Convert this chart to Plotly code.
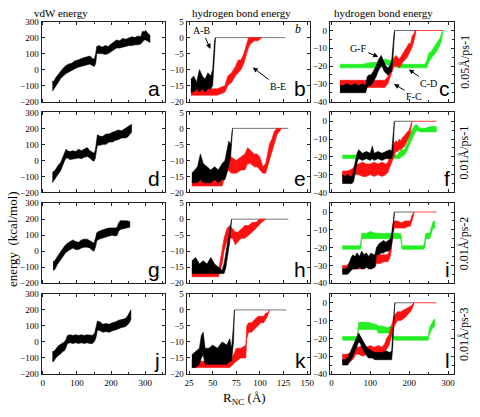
import plotly.graph_objects as go

# ======================= DATA =======================
# ---- column 1 : vdW energy, envelope of the noisy trace (lo / hi) ----
a_x  = [28, 32, 38, 45, 52, 60, 68, 76, 85, 94, 103, 112, 121, 130, 138, 145, 151, 155, 158, 165, 174, 183, 192, 200, 208, 216, 225, 234, 243, 252, 261, 270, 279, 287, 292, 297, 302, 308, 314]
a_hi = [-70, -75, -50, -30, -5, 10, 25, 35, 40, 55, 60, 70, 75, 80, 85, 70, 65, 100, 145, 150, 140, 150, 145, 160, 175, 185, 180, 195, 190, 200, 205, 200, 210, 205, 240, 235, 245, 225, 215]
a_lo = [-135, -120, -105, -80, -55, -40, -25, -15, -5, 5, 15, 20, 25, 30, 35, 25, 20, 40, 100, 100, 100, 95, 100, 110, 125, 135, 135, 140, 145, 150, 150, 155, 155, 160, 175, 185, 185, 180, 170]

d_x  = [28, 32, 38, 45, 52, 58, 63, 68, 72, 80, 88, 96, 105, 113, 121, 130, 138, 145, 150, 154, 157, 160, 168, 176, 185, 194, 204, 213, 222, 231, 241, 248, 255, 260]
d_hi = [-75, -70, -55, -30, -15, 15, 50, 70, 60, 55, 60, 55, 70, 60, 70, 80, 60, 50, 45, 65, 120, 160, 150, 150, 165, 165, 175, 185, 190, 185, 200, 210, 220, 225]
d_lo = [-140, -125, -105, -85, -65, -35, -5, 15, 15, 5, 10, 10, 15, 10, 20, 25, 15, 0, -5, 15, 60, 95, 95, 100, 100, 115, 115, 125, 130, 140, 140, 145, 160, 175]

g_x  = [30, 35, 42, 50, 58, 65, 72, 80, 88, 96, 105, 113, 121, 130, 138, 145, 150, 155, 158, 165, 176, 185, 194, 204, 213, 218, 222, 227, 235, 245, 255]
g_hi = [-65, -60, -35, -10, 15, 35, 50, 60, 70, 60, 55, 70, 75, 75, 65, 55, 50, 85, 115, 125, 135, 140, 145, 145, 145, 150, 175, 190, 190, 190, 185]
g_lo = [-120, -115, -85, -60, -35, -15, 0, 10, 20, 10, 10, 20, 25, 25, 20, 5, 0, 30, 65, 75, 85, 90, 95, 100, 95, 100, 125, 135, 140, 145, 150]

j_x  = [28, 32, 38, 45, 52, 58, 63, 68, 72, 80, 88, 96, 105, 113, 121, 130, 138, 145, 152, 156, 160, 168, 176, 185, 194, 204, 213, 222, 231, 241, 248, 255, 258]
j_hi = [-60, -60, -45, -25, -15, -5, 0, 15, 40, 45, 40, 45, 40, 45, 40, 45, 40, 40, 55, 90, 130, 125, 110, 115, 110, 120, 125, 135, 140, 145, 160, 185, 200]
j_lo = [-125, -120, -100, -85, -75, -60, -55, -35, -10, -5, -10, -5, -10, -5, -10, -5, -10, -10, 5, 30, 75, 70, 60, 65, 60, 70, 75, 80, 90, 95, 105, 125, 140]

# ---- column 2 : hydrogen bond energy, A-B (black) and B-E (red) ----
b_k_x  = [27, 30, 33, 36, 39, 42, 45, 48, 50, 51, 52, 53]
b_k_hi = [-13, -12, -14, -10, -12, -13, -11, -12, -10, -5, -1, 0]
b_k_lo = [-17, -17, -16, -17, -16, -17, -16, -16, -15, -10, -4, 0]
b_r_x  = [27, 35, 45, 55, 63, 66, 70, 74, 77, 80, 83, 85, 88, 90, 94, 98, 102]
b_r_hi = [-16, -16, -16, -16, -15, -12, -11, -9, -7, -7, -5, -3, 0, 0, 0, 0, 0]
b_r_lo = [-18, -18, -18, -18, -17, -15, -14, -12, -11, -10, -8, -6, -3, -2, -1, -1, 0]
b_zero_x = [53, 127]

e_k_x  = [28, 31, 34, 37, 40, 44, 48, 52, 56, 60, 63, 65, 67, 69, 71]
e_k_hi = [-14, -13, -12, -8, -11, -12, -13, -12, -13, -11, -10, -7, -4, -5, 0]
e_k_lo = [-17, -17, -17, -16, -17, -17, -17, -16, -17, -16, -16, -14, -12, -9, 0]
e_r_x  = [28, 40, 55, 60, 62, 66, 70, 75, 80, 84, 87, 90, 94, 97, 100, 103, 106, 108, 110, 113, 115, 118, 123]
e_r_hi = [-16, -16, -16, -15, -12, -9, -9, -10, -9, -8, -6, -7, -8, -8, -9, -12, -11, -8, -5, -3, -1, 0, 0]
e_r_lo = [-18, -18, -18, -18, -16, -13, -14, -14, -13, -13, -11, -11, -12, -12, -13, -14, -14, -12, -10, -7, -5, -2, 0]
e_zero_x = [71, 130]

h_k_x  = [28, 32, 36, 40, 44, 48, 52, 56, 60, 62, 64, 66, 68, 70]
h_k_hi = [-13, -12, -14, -13, -14, -12, -14, -15, -16, -14, -10, -7, -4, 0]
h_k_lo = [-17, -17, -17, -17, -17, -17, -17, -17, -17, -17, -15, -11, -7, 0]
h_r_x  = [28, 40, 50, 56, 58, 60, 62, 65, 68, 71, 74, 77, 80, 84, 88, 92, 96, 99, 102, 106]
h_r_hi = [-16, -16, -16, -16, -13, -9, -6, -3, -2, -3, -4, -4, -3, -2, -2, -1, -1, 0, 0, 0]
h_r_lo = [-18, -18, -18, -18, -16, -14, -10, -7, -6, -6, -8, -7, -6, -6, -5, -4, -3, -2, -1, 0]
h_zero_x = [70, 130]

k_k_x  = [28, 32, 36, 38, 40, 42, 46, 50, 55, 60, 65, 68, 70, 72, 73]
k_k_hi = [-14, -13, -12, -8, -7, -12, -12, -11, -12, -10, -11, -9, -12, -5, 0]
k_k_lo = [-18, -18, -17, -15, -14, -17, -17, -17, -17, -17, -17, -16, -16, -10, 0]
k_r_x  = [28, 45, 60, 68, 72, 75, 80, 85, 86, 88, 91, 95, 98, 101, 104, 106, 108, 110]
k_r_hi = [-16, -16, -16, -16, -14, -12, -12, -11, -5, -4, -4, -3, -2, -2, -2, -1, -1, 0]
k_r_lo = [-18, -18, -18, -18, -17, -16, -15, -15, -9, -7, -7, -6, -5, -4, -4, -3, -2, 0]
k_zero_x = [73, 128]

# ---- column 3 : hydrogen bond energy, G-F (black), F-C (red), C-D (green) ----
c_k_x  = [22, 30, 40, 50, 60, 70, 80, 88, 92, 96, 100, 105, 110, 115, 120, 125, 128, 132, 136, 140, 145, 150, 155, 158, 161, 163]
c_k_hi = [-31, -31, -30, -31, -30, -31, -30, -31, -26, -25, -25, -24, -22, -20, -17, -15, -14, -16, -18, -20, -21, -20, -17, -8, -2, 0]
c_k_lo = [-35, -35, -35, -35, -35, -35, -35, -35, -32, -31, -31, -30, -28, -26, -23, -21, -20, -21, -23, -24, -25, -24, -23, -16, -8, 0]
c_r_x  = [22, 40, 60, 80, 100, 120, 137, 145, 150, 155, 158, 162, 166, 170, 174, 178, 183, 188, 191, 195, 200, 203, 208, 212, 215, 218]
c_r_hi = [-28, -28, -28, -28, -28, -28, -28, -26, -23, -20, -18, -15, -14, -15, -16, -15, -13, -11, -10, -9, -7, -8, -3, -2, 0, 0]
c_r_lo = [-32, -32, -32, -32, -32, -32, -32, -30, -27, -24, -22, -20, -20, -20, -21, -20, -18, -17, -16, -15, -13, -12, -9, -6, -4, 0]
c_g_x  = [22, 40, 60, 80, 100, 120, 130, 140, 150, 160, 170, 185, 200, 220, 240, 245, 250, 256, 262, 267, 270, 275, 280, 284, 287]
c_g_hi = [-19, -19, -19, -19, -18, -18, -17, -16, -17, -16, -18, -19, -19, -19, -19, -17, -13, -12, -10, -9, -8, -6, -4, -1, 0]
c_g_lo = [-21, -21, -21, -21, -21, -21, -20, -19, -20, -20, -21, -21, -21, -21, -21, -21, -18, -16, -14, -13, -12, -10, -8, -5, 0]
c_zero_k = [163, 218]
c_zero_r = [218, 287]
c_zero_g = [287, 292]

f_k_x  = [28, 35, 42, 48, 53, 57, 62, 66, 70, 80, 90, 100, 105, 110, 120, 130, 140, 150, 155, 158, 160, 162]
f_k_hi = [-30, -31, -30, -31, -31, -28, -22, -18, -16, -18, -17, -18, -14, -18, -17, -18, -17, -16, -17, -10, -4, 0]
f_k_lo = [-35, -35, -35, -35, -35, -34, -28, -23, -21, -22, -21, -22, -21, -22, -21, -22, -21, -21, -21, -18, -10, 0]
f_r_x  = [28, 40, 52, 57, 62, 70, 80, 90, 100, 110, 120, 130, 140, 145, 150, 153, 157, 162, 166, 170, 175, 178, 183, 188, 195, 200, 203, 207]
f_r_hi = [-28, -28, -27, -26, -24, -24, -23, -24, -24, -23, -24, -23, -24, -23, -20, -18, -15, -12, -11, -12, -10, -11, -9, -8, -6, -5, -3, 0]
f_r_lo = [-34, -33, -33, -31, -30, -30, -31, -31, -30, -31, -30, -31, -30, -29, -26, -24, -22, -19, -17, -17, -16, -16, -15, -14, -11, -9, -7, 0]
f_g_x  = [28, 50, 70, 90, 110, 130, 150, 165, 170, 175, 180, 187, 192, 196, 199, 203, 207, 212, 216, 220, 228, 240, 255, 270]
f_g_hi = [-19, -19, -19, -19, -19, -19, -19, -19, -19, -17, -16, -16, -14, -12, -9, -7, -5, -3, -2, -2, -4, -4, -3, -3]
f_g_lo = [-21, -21, -21, -21, -21, -21, -21, -21, -21, -21, -20, -19, -18, -16, -14, -12, -10, -8, -6, -5, -6, -6, -6, -6]
f_zero_k = [162, 207]
f_zero_r = [207, 270]

i_k_x  = [28, 35, 42, 46, 50, 55, 60, 66, 72, 78, 84, 90, 96, 102, 108, 112, 116, 122, 128, 134, 140, 146, 152, 156, 159, 162]
i_k_hi = [-32, -32, -31, -28, -26, -24, -25, -23, -25, -22, -24, -23, -25, -23, -24, -24, -20, -18, -17, -16, -17, -16, -15, -11, -6, 0]
i_k_lo = [-35, -35, -35, -34, -33, -32, -32, -32, -31, -32, -32, -31, -32, -32, -31, -31, -24, -24, -23, -23, -22, -22, -21, -17, -10, 0]
i_r_x  = [28, 40, 48, 60, 75, 90, 105, 112, 116, 125, 135, 145, 150, 154, 157, 162, 170, 180, 190, 198, 203, 207, 210, 213]
i_r_hi = [-30, -30, -28, -28, -28, -28, -28, -28, -24, -24, -24, -24, -21, -17, -8, -5, -5, -6, -5, -5, -5, -2, -1, 0]
i_r_lo = [-34, -33, -32, -32, -32, -31, -32, -31, -29, -29, -28, -28, -26, -22, -13, -9, -9, -9, -9, -8, -8, -5, -3, 0]
i_g_x  = [28, 45, 60, 74, 76, 78, 90, 100, 115, 130, 150, 165, 178, 180, 182, 195, 210, 225, 237, 240, 243, 253, 256, 260, 263, 266]
i_g_hi = [-19, -19, -19, -19, -16, -12, -12, -11, -12, -12, -12, -12, -12, -14, -19, -19, -19, -19, -19, -16, -12, -12, -9, -6, -5, -5]
i_g_lo = [-21, -21, -21, -21, -20, -15, -15, -15, -15, -15, -15, -15, -15, -18, -21, -21, -21, -21, -21, -20, -15, -15, -13, -10, -9, -9]
i_zero_k = [162, 213]
i_zero_r = [213, 270]

l_k_x  = [28, 35, 42, 46, 50, 55, 60, 65, 70, 75, 80, 88, 95, 105, 112, 120, 130, 140, 150, 155, 158, 160, 163]
l_k_hi = [-32, -32, -31, -29, -27, -25, -22, -19, -17, -19, -21, -24, -26, -27, -28, -28, -28, -27, -28, -27, -15, -5, 0]
l_k_lo = [-35, -35, -35, -34, -32, -30, -28, -25, -22, -23, -26, -29, -31, -31, -32, -32, -32, -32, -32, -32, -24, -12, 0]
l_r_x  = [28, 40, 50, 58, 62, 70, 80, 90, 100, 110, 120, 130, 137, 142, 148, 153, 158, 162, 170, 178, 186, 195, 203, 208, 213]
l_r_hi = [-29, -29, -28, -26, -25, -25, -24, -25, -24, -25, -24, -25, -23, -20, -18, -14, -10, -7, -5, -5, -4, -3, -2, -1, 0]
l_r_lo = [-34, -34, -33, -31, -29, -29, -30, -29, -30, -29, -30, -29, -28, -26, -24, -20, -16, -13, -10, -10, -9, -7, -5, -3, 0]
l_g_x  = [28, 45, 60, 66, 68, 70, 80, 95, 110, 116, 120, 130, 145, 153, 157, 162, 180, 200, 220, 240, 249, 252, 258, 262, 266]
l_g_hi = [-19, -19, -19, -19, -15, -11, -11, -11, -12, -12, -13, -13, -14, -13, -17, -19, -19, -19, -19, -19, -19, -14, -11, -10, -9]
l_g_lo = [-21, -21, -21, -21, -19, -15, -15, -15, -15, -15, -17, -17, -17, -17, -20, -21, -21, -21, -21, -21, -21, -18, -15, -14, -13]
l_zero_k = [163, 213]
l_zero_r = [213, 270]

zero_y = [0, 0]

panel_letters = ["a", "b", "c", "d", "e", "f", "g", "h", "i", "j", "k", "l"]
col_titles = ["vdW energy", "hydrogen bond energy", "hydrogen bond energy"]
row_labels = ["0.05Å/ps-1", "0.01Å/ps-1", "0.01Å/ps-2", "0.01Å/ps-3"]

# ======================= LAYOUT =======================
W, H = 480, 417
COLS = [(40, 165), (187, 312), (332, 458)]
ROWS = [(17, 99), (110, 192), (203, 285), (296, 378)]
XRANGES = [[-4, 358], [22.5, 153], [-4, 316]]
YRANGES = [[-200, 300], [-20, 5], [-40, 5]]
XTICKS = [dict(dtick=100, tick0=0), dict(dtick=25, tick0=25), dict(dtick=100, tick0=0)]
YTICKS = [dict(dtick=100, tick0=-200), dict(dtick=5, tick0=-20), dict(dtick=10, tick0=-40)]
XMINOR = [50, None, 50]
YMINOR = [None, None, 5]

BLACK = "#000000"
RED = "#ff1010"
GREEN = "#22ee22"
SERIF = "Liberation Serif"
SANS = "Liberation Sans"

fig = go.Figure()


def suffix(r, c):
    n = r * 3 + c + 1
    return "" if n == 1 else str(n)


def band(x, lo, hi, color, r, c, lw=0.6):
    s = suffix(r, c)
    fig.add_trace(go.Scatter(
        x=list(x) + list(x)[::-1], y=list(hi) + list(lo)[::-1],
        mode="lines", fill="toself", fillcolor=color,
        line=dict(color=color, width=lw),
        xaxis="x" + s, yaxis="y" + s, hoverinfo="skip", showlegend=False))


def seg(x, y, color, r, c, lw=0.8):
    s = suffix(r, c)
    fig.add_trace(go.Scatter(
        x=x, y=y, mode="lines", line=dict(color=color, width=lw),
        xaxis="x" + s, yaxis="y" + s, hoverinfo="skip", showlegend=False))


# column 1
band(a_x, a_lo, a_hi, BLACK, 0, 0)
band(d_x, d_lo, d_hi, BLACK, 1, 0)
band(g_x, g_lo, g_hi, BLACK, 2, 0)
band(j_x, j_lo, j_hi, BLACK, 3, 0)

# column 2
for r, (zx, rx, rlo, rhi, kx, klo, khi) in enumerate([
        (b_zero_x, b_r_x, b_r_lo, b_r_hi, b_k_x, b_k_lo, b_k_hi),
        (e_zero_x, e_r_x, e_r_lo, e_r_hi, e_k_x, e_k_lo, e_k_hi),
        (h_zero_x, h_r_x, h_r_lo, h_r_hi, h_k_x, h_k_lo, h_k_hi),
        (k_zero_x, k_r_x, k_r_lo, k_r_hi, k_k_x, k_k_lo, k_k_hi)]):
    seg(zx, zero_y, "#555555", r, 1)
    band(rx, rlo, rhi, RED, r, 1)
    band(kx, klo, khi, BLACK, r, 1)

# column 3
col3 = [
    (c_g_x, c_g_lo, c_g_hi, c_r_x, c_r_lo, c_r_hi, c_k_x, c_k_lo, c_k_hi, c_zero_k, c_zero_r),
    (f_g_x, f_g_lo, f_g_hi, f_r_x, f_r_lo, f_r_hi, f_k_x, f_k_lo, f_k_hi, f_zero_k, f_zero_r),
    (i_g_x, i_g_lo, i_g_hi, i_r_x, i_r_lo, i_r_hi, i_k_x, i_k_lo, i_k_hi, i_zero_k, i_zero_r),
    (l_g_x, l_g_lo, l_g_hi, l_r_x, l_r_lo, l_r_hi, l_k_x, l_k_lo, l_k_hi, l_zero_k, l_zero_r),
]
for r, (gx, glo, ghi, rx, rlo, rhi, kx, klo, khi, zk, zr) in enumerate(col3):
    seg(zk, zero_y, "#444444", r, 2)
    seg(zr, zero_y, RED, r, 2)
    band(gx, glo, ghi, GREEN, r, 2)
    band(rx, rlo, rhi, RED, r, 2)
    band(kx, klo, khi, BLACK, r, 2)
seg(c_zero_g, zero_y, GREEN, 0, 2)

layout = dict(
    width=W, height=H, margin=dict(l=0, r=0, t=0, b=0),
    paper_bgcolor="white", plot_bgcolor="white", showlegend=False,
    font=dict(family=SERIF, size=9, color="black"),
)
annotations = []
for r in range(4):
    for c in range(3):
        s = suffix(r, c)
        n = r * 3 + c
        x0, x1 = COLS[c]
        y0, y1 = ROWS[r]
        xa = dict(domain=[x0 / W, x1 / W], range=XRANGES[c], anchor="y" + s,
                  showline=True, mirror="ticks", linecolor="#222222", linewidth=1,
                  ticks="inside", ticklen=3, tickcolor="#222222", showgrid=False,
                  zeroline=False, showticklabels=(r == 3),
                  tickfont=dict(family=SERIF, size=9), **XTICKS[c])
        if XMINOR[c]:
            xa["minor"] = dict(dtick=XMINOR[c], ticks="inside", ticklen=2, tickcolor="#222222", showgrid=False)
        ya = dict(domain=[1 - y1 / H, 1 - y0 / H], range=YRANGES[c], anchor="x" + s,
                  showline=True, mirror="ticks", linecolor="#222222", linewidth=1,
                  ticks="inside", ticklen=3, tickcolor="#222222", showgrid=False,
                  zeroline=False, tickfont=dict(family=SERIF, size=9), **YTICKS[c])
        if YMINOR[c]:
            ya["minor"] = dict(dtick=YMINOR[c], ticks="inside", ticklen=2, tickcolor="#222222", showgrid=False)
        layout["xaxis" + s] = xa
        layout["yaxis" + s] = ya
        annotations.append(dict(
            text=panel_letters[n], xref="x" + s + " domain", yref="y" + s + " domain",
            x=0.98, y=0.0, xanchor="right", yanchor="bottom", showarrow=False,
            font=dict(family=SANS, size=21, color="black")))

# column titles
for c, t in enumerate(col_titles):
    cx = [60, 243, 386][c]
    annotations.append(dict(text=t, xref="paper", yref="paper", x=cx / W, y=1 - 8 / H,
                            xanchor="center", yanchor="middle", showarrow=False,
                            font=dict(family=SERIF, size=11)))
# row labels on the right
for r, t in enumerate(row_labels):
    cy = (ROWS[r][0] + ROWS[r][1]) / 2
    annotations.append(dict(text=t, xref="paper", yref="paper", x=468 / W, y=1 - cy / H,
                            xanchor="center", yanchor="middle", showarrow=False, textangle=-90,
                            font=dict(family=SERIF, size=12)))
# axis titles
annotations.append(dict(text="energy  (kcal/mol)", xref="paper", yref="paper", x=10 / W, y=1 - 240 / H,
                        xanchor="center", yanchor="middle", showarrow=False, textangle=-90,
                        font=dict(family=SERIF, size=13)))
annotations.append(dict(text="R<sub>NC</sub> (Å)", xref="paper", yref="paper", x=246 / W, y=1 - 403 / H,
                        xanchor="center", yanchor="middle", showarrow=False,
                        font=dict(family=SERIF, size=13)))
# italic b in panel b
annotations.append(dict(text="<i>b</i>", xref="paper", yref="paper", x=300 / W, y=1 - 25 / H,
                        xanchor="center", yanchor="middle", showarrow=False,
                        font=dict(family=SERIF, size=12)))


def arrow_label(text, head, tail_off):
    annotations.append(dict(text=text, xref="paper", yref="paper", x=head[0] / W, y=1 - head[1] / H,
                            ax=tail_off[0], ay=tail_off[1], showarrow=True, arrowhead=2,
                            arrowsize=1, arrowwidth=1, arrowcolor="black",
                            font=dict(family=SERIF, size=10)))


arrow_label("A-B", (211, 45), (-8, -18))
arrow_label("B-E", (254, 64), (25, 19))
arrow_label("G-F", (381, 53), (-20, -8))
arrow_label("C-D", (412, 66), (20, 14))
arrow_label("F-C", (397, 81), (20, 12))

layout["annotations"] = annotations
fig.update_layout(**layout)
fig.write_html("out.html",
               config={"displayModeBar": False},
               post_script="document.body.style.margin='0';document.body.style.overflow='hidden';")
